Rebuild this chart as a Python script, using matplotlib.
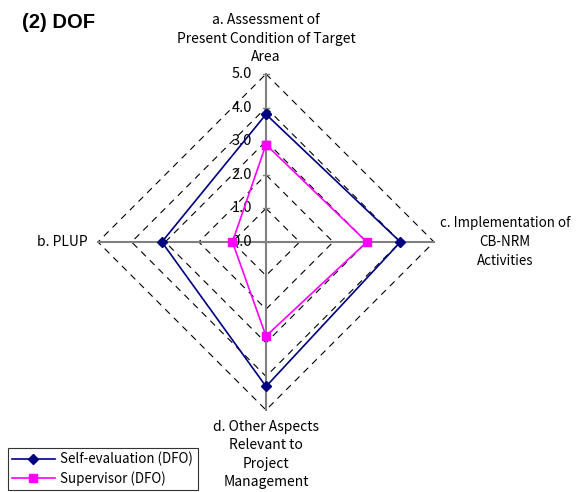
import numpy as np
import matplotlib
matplotlib.use("Agg")
import matplotlib.pyplot as plt

plt.rcParams['font.family'] = ['Noto Sans CJK JP', 'DejaVu Sans']

# data
categories = ["a. Assessment of\nPresent Condition of Target\nArea",
              "c. Implementation of\nCB-NRM\nActivities",
              "d. Other Aspects\nRelevant to\nProject\nManagement",
              "b. PLUP"]
self_eval = [3.8, 4.0, 4.3, 3.1]
supervisor = [2.9, 3.0, 2.8, 1.0]
levels = [1.0, 2.0, 3.0, 4.0, 5.0]
tick_labels = ["0.0", "1.0", "2.0", "3.0", "4.0", "5.0"]

# angles: top, right, bottom, left (clockwise)
angles = np.array([90, 0, -90, 180]) * np.pi / 180


def to_xy(vals):
    vals = np.asarray(vals, dtype=float)
    x = vals * np.cos(angles)
    y = vals * np.sin(angles)
    return np.append(x, x[0]), np.append(y, y[0])


W, H = 582, 492
cx, cy = 266, 242
unit = 33.6  # pixels per value unit

fig = plt.figure(figsize=(W / 100, H / 100), dpi=100)
ax = fig.add_axes([0, 0, 1, 1])
ax.set_xlim(-cx / unit, (W - cx) / unit)
ax.set_ylim(-(H - cy) / unit, cy / unit)
ax.axis('off')

# dashed grid
for lv in levels:
    gx, gy = to_xy([lv] * 4)
    ax.plot(gx, gy, color='black', lw=0.8, ls=(0, (6, 5)), zorder=1)

# spokes
for a in angles:
    ax.plot([0, 5 * np.cos(a)], [0, 5 * np.sin(a)], color='#808080', lw=1.5, zorder=2)

# tick marks on vertical axis
for lv in [0] + levels:
    ax.plot([-0.1, 0.1], [lv, lv], color='#808080', lw=1, zorder=2)

# tick labels
for i, t in enumerate(tick_labels):
    ax.text(-0.42, i, t, ha='right', va='center', fontsize=10.5, zorder=3)

# series
sx, sy = to_xy(self_eval)
ax.plot(sx, sy, color='#000080', lw=1.2, marker='D', ms=5, zorder=4,
        label='Self-evaluation (DFO)')
px, py = to_xy(supervisor)
ax.plot(px, py, color='#FF00FF', lw=1.2, marker='s', ms=5.5, zorder=5,
        label='Supervisor (DFO)')

# category labels
ax.text(0, 5.3, categories[0], ha='center', va='bottom', fontsize=10, linespacing=1.4)
ax.text(7.12, 0.0, categories[1], ha='center', va='center', fontsize=9.6, linespacing=1.45)
ax.text(0, -5.3, categories[2], ha='center', va='top', fontsize=10, linespacing=1.4)
ax.text(-5.3, 0.0, categories[3], ha='right', va='center', fontsize=10)

fig.text(22 / W, 1 - 22 / H, "(2) DOF", fontsize=14.5, fontweight='bold',
         family='Liberation Sans', ha='left', va='center')

leg = ax.legend(loc='lower left', bbox_to_anchor=(8 / W, 2 / H, 190 / W, 45 / H),
                bbox_transform=fig.transFigure, mode='expand', fontsize=9.6,
                frameon=True, fancybox=False, edgecolor='black', handlelength=3.2,
                handletextpad=0.4, borderpad=0.3, labelspacing=0.35, borderaxespad=0)
leg.get_frame().set_linewidth(0.8)

fig.savefig('out.png', dpi=100)
